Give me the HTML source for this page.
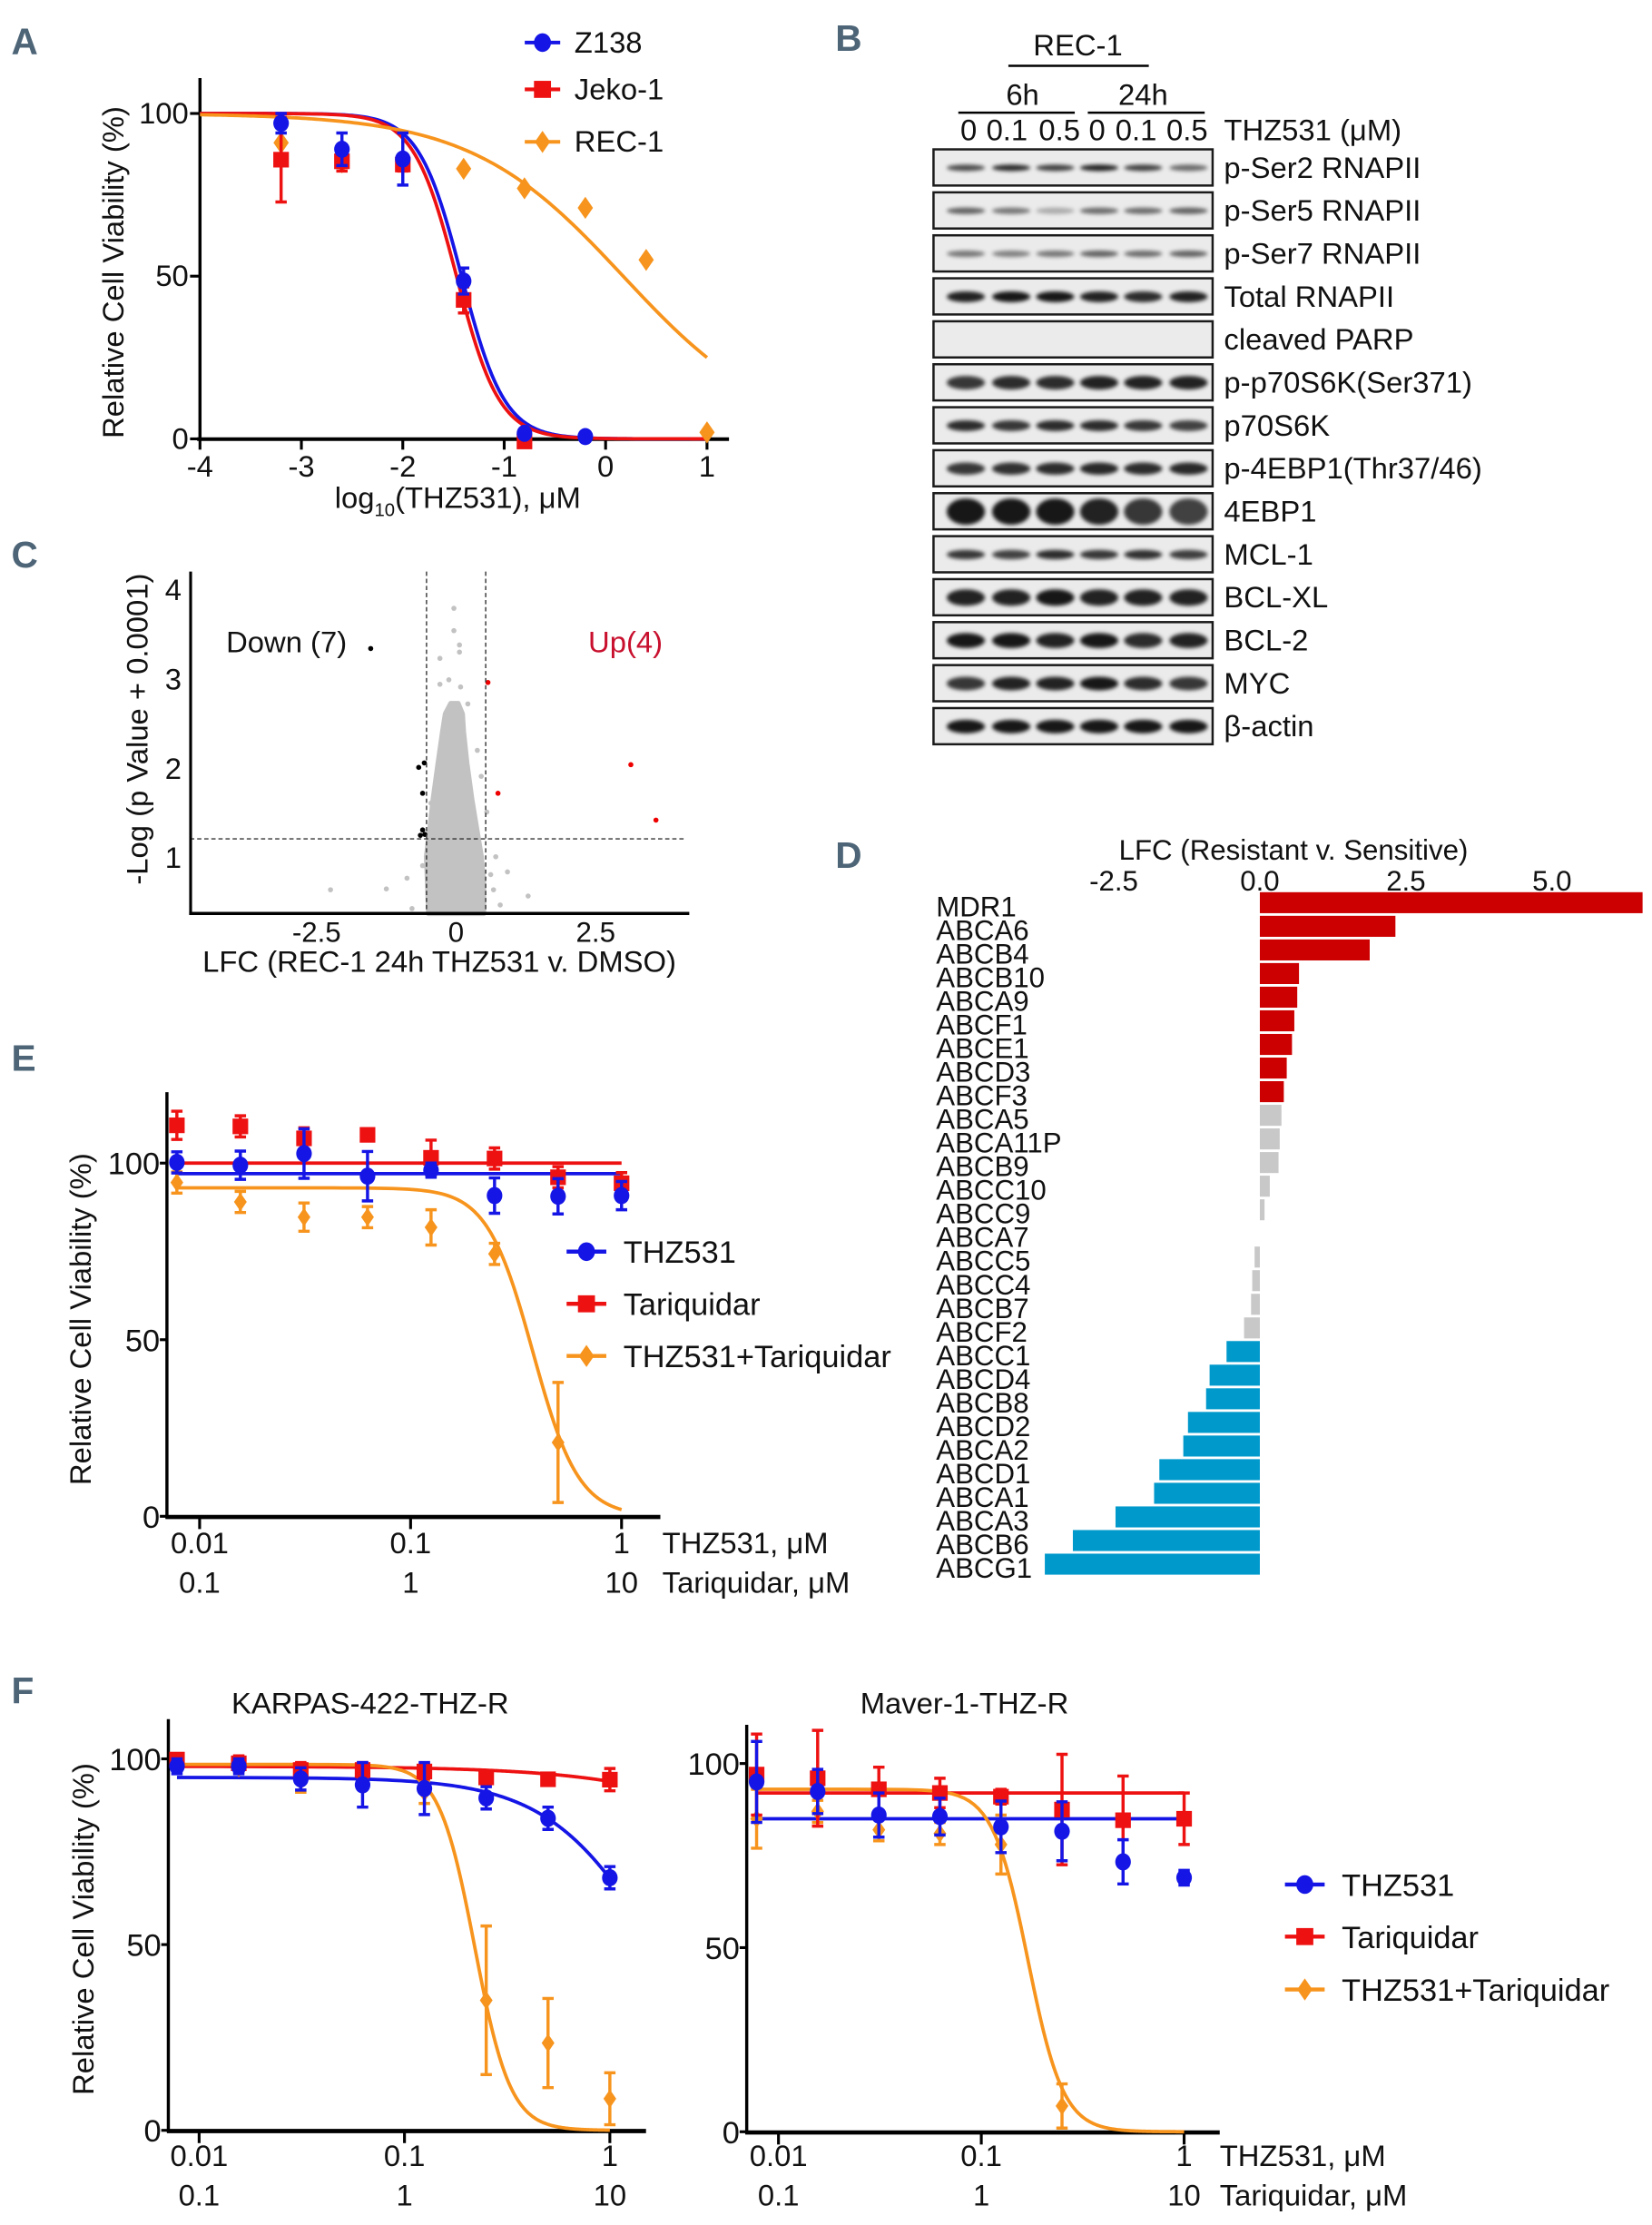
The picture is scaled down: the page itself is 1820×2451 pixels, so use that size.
<!DOCTYPE html>
<html><head><meta charset="utf-8">
<style>
html,body{margin:0;padding:0;background:#fff;}
svg{display:block;}
text{font-family:"Liberation Sans",sans-serif;fill:#111;}
.nar{font-family:"Liberation Sans Narrow","Liberation Sans",sans-serif;}
.plab{font-family:"Liberation Sans Narrow","Liberation Sans",sans-serif;font-weight:bold;fill:#4d6577;font-size:26px;}
</style></head>
<body>
<svg id="fig" xmlns="http://www.w3.org/2000/svg" width="1820" height="2451" viewBox="0 0 1164.8 1568.64">
<defs><filter id="blur" x="-20%" y="-100%" width="140%" height="300%"><feGaussianBlur stdDeviation="1.3"/></filter></defs>
<text class="plab" x="8" y="38">A</text>
<text class="plab" x="589" y="36">B</text>
<text class="plab" x="8" y="400">C</text>
<text class="plab" x="589" y="612">D</text>
<text class="plab" x="8" y="755">E</text>
<text class="plab" x="8" y="1201">F</text>
<g id="gA"></g>
<g id="gB"></g>
<g id="gC"></g>
<g id="gD"></g>
<g id="gE"></g>
<g id="gF"></g>
</svg>
<script>
// ---------- Panel A data ----------
const aX = [-3.2,-2.6,-2.0,-1.4,-0.8,-0.2,0.4,1.0];
const aZ138 = [97,89,86,48.5,1.7,0.7];
const aZ138Err = [3,5,8,4,0,0];
const aJeko = [85.8,85.3,84.3,42.7,-0.8];
const aJekoErr = [13,3,2,4,0];
const aRec = [91,85,84.5,83,77,71,55,2];
const aFitC = [-1.42,-1.47,0.173];
const aFitH = [2.05,2.05,0.577];
const aXTicks = [-4,-3,-2,-1,0,1];
const aYTicks = [0,50,100];
// ---------- Panel B data ----------
const bRows = ['p-Ser2 RNAPII','p-Ser5 RNAPII','p-Ser7 RNAPII','Total RNAPII','cleaved PARP','p-p70S6K(Ser371)','p70S6K','p-4EBP1(Thr37/46)','4EBP1','MCL-1','BCL-XL','BCL-2','MYC','β-actin'];
const bIntensity = [[0.75,0.9,0.8,0.95,0.8,0.6],[0.65,0.55,0.3,0.6,0.6,0.65],[0.55,0.5,0.55,0.65,0.6,0.65],[0.95,1,1,0.95,0.9,0.95],[0,0,0,0,0,0],[0.85,0.9,0.9,0.95,0.95,0.95],[0.9,0.85,0.9,0.9,0.85,0.8],[0.85,0.88,0.9,0.92,0.9,0.92],[1,1,1,0.95,0.85,0.8],[0.85,0.8,0.9,0.85,0.88,0.82],[0.95,0.95,1,0.95,0.95,0.95],[1,1,0.95,1,0.9,0.95],[0.85,0.95,0.95,1,0.9,0.85],[1,1,1,1,1,1]];
const bThick = [3,3,3,6,0,8,6,7,17,5,10,9,8,8];
const bLanes = ['0','0.1','0.5','0','0.1','0.5'];
// ---------- Panel C data ----------
const cGrayX = [-0.04,-0.04,0.06,0.06,-0.29,-0.13,-0.29,0.08,0.21,-2.25,-1.25,1.29,0.92,0.71,0.67,0.79,0.38,-0.88,-0.79,0.55,-0.45,0.45,-0.6,0.62];
const cGrayY = [3.78,3.53,3.37,3.29,3.22,2.98,2.93,2.9,2.71,0.63,0.64,0.56,0.83,1.0,0.63,0.46,2.19,0.76,0.42,1.5,1.6,1.9,0.9,0.8];
const cDownX = [-1.53,-0.67,-0.57,-0.6,-0.6,-0.64,-0.56];
const cDownY = [3.33,2.0,2.05,1.71,1.3,1.24,1.25];
const cUpX = [0.57,0.75,3.13,3.58];
const cUpY = [2.95,1.71,2.03,1.41];
const cCloudY = [0.36,0.7,1.0,1.3,1.64,2.05,2.4,2.6,2.72];
const cCloudL = [-0.5,-0.52,-0.54,-0.48,-0.42,-0.33,-0.25,-0.2,-0.1];
const cCloudR = [0.5,0.5,0.46,0.38,0.29,0.2,0.14,0.12,0.04];
const cXTicks = [-2.5,0,2.5];
const cXTickLabels = ['-2.5','0','2.5'];
const cYTicks = [1,2,3,4];
// ---------- Panel D data ----------
const dGenes = ['MDR1','ABCA6','ABCB4','ABCB10','ABCA9','ABCF1','ABCE1','ABCD3','ABCF3','ABCA5','ABCA11P','ABCB9','ABCC10','ABCC9','ABCA7','ABCC5','ABCC4','ABCB7','ABCF2','ABCC1','ABCD4','ABCB8','ABCD2','ABCA2','ABCD1','ABCA1','ABCA3','ABCB6','ABCG1'];
const dLFC = [6.55,2.32,1.88,0.67,0.64,0.59,0.55,0.46,0.41,0.37,0.34,0.32,0.17,0.08,0,-0.09,-0.13,-0.15,-0.27,-0.57,-0.86,-0.92,-1.23,-1.31,-1.72,-1.81,-2.47,-3.2,-3.68];
const dGroup = ['up','up','up','up','up','up','up','up','up','ns','ns','ns','ns','ns','ns','ns','ns','ns','ns','dn','dn','dn','dn','dn','dn','dn','dn','dn','dn'];
const dTicks = [-2.5,0,2.5,5.0];
const dTickLabels = ['-2.5','0.0','2.5','5.0'];
// ---------- Panel E data ----------
const eConc = [0.0078,0.0156,0.03125,0.0625,0.125,0.25,0.5,1];
const eTHZ = [100.2,99.4,102.7,96.3,98,90.8,90.6,90.8];
const eTHZErr = [3,4,7,7,2,5,5,4];
const eTar = [110.7,110.4,107,108,101.5,101.3,96,94.3];
const eTarErr = [4,3,3,1,5,3,3,3];
const eCombo = [94.5,89,84.7,84.7,81.8,74.3,20.9];
const eComboErr = [3,3,4,3,5,3,17];
const eFitTop = [97,100,93];
const eFitC = [1e6,1e6,0.38];
const eFitH = [1,1,4];
// ---------- Panel F data ----------
const fKTHZ = [98,98,94.6,93,92,89.5,84,68];
const fKTHZErr = [2,2,3,6,7,3,3,3];
const fKTar = [99.8,98.8,97,97,96.6,95,94.5,94.4];
const fKTarErr = [1,2,2,2,2,1,1,3];
const fKCombo = [98.5,97.5,94,95,91,35,23.5,8.5];
const fKComboErr = [1,1,3,2,3,20,12,7];
const fKFitTop = [95,98,98.5];
const fKFitC = [1.77,23,0.22];
const fKFitH = [1.6,1,5];
const fMTHZ = [95,92.4,86,85.6,82.8,81.6,73.3,69];
const fMTHZErr = [11,6,6,5,7,8,6,2];
const fMTar = [97,96,93,92,91,87.5,84.6,85];
const fMTarErr = [11,13,6,4,2,15,12,7];
const fMCombo = [85,87,82,81,78,7];
const fMComboErr = [8,3,3,3,8,6];
const fMFitTop = [85,92,93];
const fMFitC = [1e6,1e6,0.17];
const fMFitH = [1,1,5];
const fXTicks = [0.01,0.1,1];
const fXTickLabels = ['0.01','0.1','1'];
const fX2Labels = ['0.1','1','10'];

const NS='http://www.w3.org/2000/svg';
const BLUE='#1515e6', RED='#ee1111', ORANGE='#f7941d';
function mk(parent,tag,attrs,txt){const e=document.createElementNS(NS,tag);for(const k in attrs)e.setAttribute(k,attrs[k]);if(txt!==undefined)e.textContent=txt;parent.appendChild(e);return e;}
function marker(g,shape,x,y,color,s){
  let e;
  if(shape==='circle'){e=mk(g,'ellipse',{cx:x,cy:y,rx:s,ry:s*1.1,fill:color});}
  else if(shape==='square'){e=mk(g,'rect',{x:x-s,y:y-s,width:2*s,height:2*s,fill:color});}
  else {e=mk(g,'polygon',{points:`${x},${y-s*1.3} ${x+s*0.9},${y} ${x},${y+s*1.3} ${x-s*0.9},${y}`,fill:color});}
  return e;
}
function errbar(g,x,y1,y2,color,w){
  const p=mk(g,'path',{d:`M${x},${y1}V${y2}M${x-w},${y1}H${x+w}M${x-w},${y2}H${x+w}`,stroke:color,'stroke-width':2.2,fill:'none'});
  
  
}
function curve(g,fn,x0,x1,sx,sy,color,n){
  let d='';for(let i=0;i<=n;i++){const x=x0+(x1-x0)*i/n;d+=(i?'L':'M')+sx(x).toFixed(2)+','+sy(fn(x)).toFixed(2);}
  const p=mk(g,'path',{d:d,stroke:color,'stroke-width':2.4,fill:'none'});
  
  
}

// ===== Panel A =====
(function(){
  const g=document.getElementById('gA');
  const sx=v=>141+(v+4)*71.5, sy=v=>309.4-v*2.294;
  mk(g,'line',{x1:141,y1:55,x2:141,y2:310,stroke:'#000','stroke-width':2.2});
  mk(g,'line',{x1:139,y1:309.6,x2:514,y2:309.6,stroke:'#000','stroke-width':2.6});
  aXTicks.forEach(t=>{mk(g,'line',{x1:sx(t),y1:309,x2:sx(t),y2:317,stroke:'#000','stroke-width':2});
    const tx=mk(g,'text',{x:sx(t),y:336,'text-anchor':'middle','font-size':21,class:'nar'},String(t));
    
    });
  aYTicks.forEach(t=>{mk(g,'line',{x1:134,y1:sy(t),x2:141,y2:sy(t),stroke:'#000','stroke-width':2});
    const tx=mk(g,'text',{x:133,y:sy(t)+7,'text-anchor':'end','font-size':21,class:'nar'},String(t));
    
    });
  const yt=mk(g,'text',{x:0,y:0,transform:'translate(87,192) rotate(-90)','text-anchor':'middle','font-size':21},'Relative Cell Viability (%)');
  
  
  const xt=mk(g,'text',{x:236,y:358,'font-size':21,class:'nar'});
  
  
  mk(xt,'tspan',{},'log');mk(xt,'tspan',{'font-size':13,dy:6},'10');mk(xt,'tspan',{dy:-6},'(THZ531), μM');
  const cols=[BLUE,RED,ORANGE];
  [0,1,2].forEach(i=>curve(g,x=>100/(1+Math.pow(10,aFitH[i]*(x-aFitC[i]))),-4,1,sx,sy,cols[i],200));
  aRec.forEach((v,i)=>{const m=marker(g,'diamond',sx(aX[i]),sy(v),ORANGE,6);});
  aJeko.forEach((v,i)=>{if(aJekoErr[i])errbar(g,sx(aX[i]),sy(v-aJekoErr[i]),sy(v+aJekoErr[i]),RED,4);const m=marker(g,'square',sx(aX[i]),sy(v),RED,5.5);});
  aZ138.forEach((v,i)=>{if(aZ138Err[i])errbar(g,sx(aX[i]),sy(v-aZ138Err[i]),sy(v+aZ138Err[i]),BLUE,4);const m=marker(g,'circle',sx(aX[i]),sy(v),BLUE,5.5);});
  const names=['Z138','Jeko-1','REC-1'],ys=[30,63,100],sh=['circle','square','diamond'];
  names.forEach((n,i)=>{const lg=mk(g,'g',{});
    mk(lg,'line',{x1:370,y1:ys[i],x2:395,y2:ys[i],stroke:cols[i],'stroke-width':2.6});marker(lg,sh[i],382.5,ys[i],cols[i],6);
    mk(lg,'text',{x:405,y:ys[i]+7,'font-size':21,class:'nar'},n);});
})();

// ===== Panel B =====
(function(){
  const g=document.getElementById('gB');
  const t1=mk(g,'text',{x:760,y:39,'text-anchor':'middle','font-size':21,class:'nar'},'REC-1');
  mk(g,'line',{x1:711,y1:46.4,x2:810,y2:46.4,stroke:'#000','stroke-width':1.6});
  mk(g,'text',{x:721,y:74,'text-anchor':'middle','font-size':21,class:'nar'},'6h');
  mk(g,'text',{x:806,y:74,'text-anchor':'middle','font-size':21,class:'nar'},'24h');
  mk(g,'line',{x1:675.7,y1:79.4,x2:757.8,y2:79.4,stroke:'#000','stroke-width':1.6});
  mk(g,'line',{x1:767,y1:79.4,x2:849.4,y2:79.4,stroke:'#000','stroke-width':1.6});
  const laneX=[683,710,747,773.5,801,837];
  bLanes.forEach((l,i)=>{const t=mk(g,'text',{x:laneX[i],y:99,'text-anchor':'middle','font-size':21},l);});
  mk(g,'text',{x:863,y:99,'font-size':21},'THZ531 (μM)');
  const bandX=[681,713,744,775,806,838];
  bRows.forEach((r,i)=>{
    const top=105.3+i*30.3;
    const rg=mk(g,'g',{});
    mk(rg,'rect',{x:658.2,y:top,width:196.8,height:25.5,fill:'#ebebeb',stroke:'#1a1a1a','stroke-width':1.6});
    bIntensity[i].forEach((v,j)=>{if(v>0&&bThick[i]>0){
      mk(rg,'ellipse',{cx:bandX[j],cy:top+13,rx:13.5,ry:bThick[i]/2+0.8,fill:'#000','fill-opacity':v*0.9,filter:'url(#blur)'});}});
    mk(rg,'text',{x:863,y:top+20,'font-size':21},r);
  });
})();

// ===== Panel C =====
(function(){
  const g=document.getElementById('gC');
  const sx=v=>321.6+v*39.36, sy=v=>667-v*63;
  const pts=[];for(let i=0;i<cCloudY.length;i++)pts.push(sx(cCloudL[i])+','+sy(cCloudY[i]));
  for(let i=cCloudY.length-1;i>=0;i--)pts.push(sx(cCloudR[i])+','+sy(cCloudY[i]));
  const cl=mk(g,'polygon',{points:pts.join(' '),fill:'#c2c2c2',stroke:'#c2c2c2','stroke-width':3,'stroke-linejoin':'round'});
  
  cGrayX.forEach((x,i)=>{const c=mk(g,'circle',{cx:sx(x),cy:sy(cGrayY[i]),r:1.8,fill:'#c2c2c2'});});
  cDownX.forEach((x,i)=>{const c=mk(g,'circle',{cx:sx(x),cy:sy(cDownY[i]),r:1.8,fill:'#000'});});
  cUpX.forEach((x,i)=>{const c=mk(g,'circle',{cx:sx(x),cy:sy(cUpY[i]),r:1.8,fill:'#e00'});});
  [-0.53,0.53].forEach(v=>mk(g,'line',{x1:sx(v),y1:403,x2:sx(v),y2:644,stroke:'#333','stroke-width':0.9,'stroke-dasharray':'3,2'}));
  mk(g,'line',{x1:134,y1:sy(1.2),x2:482,y2:sy(1.2),stroke:'#333','stroke-width':0.9,'stroke-dasharray':'3,2'});
  mk(g,'line',{x1:134.4,y1:403,x2:134.4,y2:645,stroke:'#000','stroke-width':2});
  mk(g,'line',{x1:133.4,y1:644,x2:486,y2:644,stroke:'#000','stroke-width':2.2});
  cXTicks.forEach((t,i)=>{const tx=mk(g,'text',{x:sx(t),y:664,'text-anchor':'middle','font-size':20,class:'nar'},cXTickLabels[i]);});
  cYTicks.forEach(t=>{const tx=mk(g,'text',{x:128,y:sy(t)+8,'text-anchor':'end','font-size':21,class:'nar'},String(t));});
  const yt=mk(g,'text',{x:0,y:0,transform:'translate(104,514) rotate(-90)','text-anchor':'middle','font-size':21},'-Log (p Value + 0.0001)');
  const xt=mk(g,'text',{x:309.8,y:685,'text-anchor':'middle','font-size':21,class:'nar'},'LFC (REC-1 24h THZ531 v. DMSO)');
  mk(g,'text',{x:202,y:460,'text-anchor':'middle','font-size':21,class:'nar'},'Down (7)');
  const up=mk(g,'text',{x:441,y:460,'text-anchor':'middle','font-size':21,class:'nar'},'Up(4)');up.style.fill='#c8102e';
})();

// ===== Panel D =====
(function(){
  const g=document.getElementById('gD');
  const sx=v=>888.3+v*41.2;
  const col={up:'#cc0000',ns:'#c8c8c8',dn:'#0099cc'};
  mk(g,'text',{x:912,y:606,'text-anchor':'middle','font-size':20},'LFC (Resistant v. Sensitive)');
  dTicks.forEach((t,i)=>{const tx=mk(g,'text',{x:sx(t),y:628,'text-anchor':'middle','font-size':20},dTickLabels[i]);});
  dGenes.forEach((n,i)=>{
    const top=628+i*16.1*30/29;
    const v=dLFC[i];
    if(v!==0){const r=mk(g,'rect',{x:Math.min(sx(0),sx(v)),y:top+1,width:Math.abs(sx(v)-sx(0)),height:14.8,fill:col[dGroup[i]]});
      }
    const t=mk(g,'text',{x:660,y:top+18,'font-size':20},n);
  });
})();

// ===== dose-response helper (E,F) =====
function doseChart(g,o){
  const sx=c=>o.x1+(Math.log10(c)+1)*o.dec, sy=v=>o.y0-v*o.py;
  mk(g,'line',{x1:o.ax,y1:o.ytop,x2:o.ax,y2:o.y0+1.5,stroke:'#000','stroke-width':2.2});
  mk(g,'line',{x1:o.ax-1,y1:o.y0+0.5,x2:o.xend,y2:o.y0+0.5,stroke:'#000','stroke-width':3});
  fXTicks.forEach((t,i)=>{mk(g,'line',{x1:sx(t),y1:o.y0,x2:sx(t),y2:o.y0+9,stroke:'#000','stroke-width':2});
    const a=mk(g,'text',{x:sx(t),y:o.lab1,'text-anchor':'middle','font-size':21,class:'nar'},fXTickLabels[i]);
    const b=mk(g,'text',{x:sx(t),y:o.lab2,'text-anchor':'middle','font-size':21,class:'nar'},fX2Labels[i]);});
  [0,50,100].forEach(t=>{mk(g,'line',{x1:o.ax-5,y1:sy(t),x2:o.ax,y2:sy(t),stroke:'#000','stroke-width':2});
    const a=mk(g,'text',{x:o.ax-5,y:sy(t)+8,'text-anchor':'end','font-size':22,class:'nar'},String(t));});
  if(o.unitsX){mk(g,'text',{x:o.unitsX,y:o.lab1,'font-size':21,class:'nar'},'THZ531, μM');mk(g,'text',{x:o.unitsX,y:o.lab2,'font-size':21,class:'nar'},'Tariquidar, μM');}
  if(o.ytitleX){const yt=mk(g,'text',{x:0,y:0,transform:`translate(${o.ytitleX},${o.ytitleY}) rotate(-90)`,'text-anchor':'middle','font-size':21},'Relative Cell Viability (%)');}
  const cols=[BLUE,RED,ORANGE];
  [0,1,2].forEach(i=>curve(g,c=>o.top[i]/(1+Math.pow(c/o.fc[i],o.fh[i])),0.0078,1,sx,sy,cols[i],200));
  const series=[[o.c,o.cE,ORANGE,'diamond','combo-point'],[o.t,o.tE,RED,'square','tariquidar-point'],[o.h,o.hE,BLUE,'circle','thz531-point']];
  series.forEach(s=>{s[0].forEach((v,i)=>{const x=sx(eConc[i]);errbar(g,x,sy(v-s[1][i]),sy(v+s[1][i]),s[2],4);
    const m=marker(g,s[3],x,sy(v),s[2],s[3]==='diamond'?5:5.5);});});
}
function legend(g,x,ys){
  const names=['THZ531','Tariquidar','THZ531+Tariquidar'],cols=[BLUE,RED,ORANGE],sh=['circle','square','diamond'];
  names.forEach((n,i)=>{const lg=mk(g,'g',{});
    mk(lg,'line',{x1:x-14,y1:ys[i],x2:x+14,y2:ys[i],stroke:cols[i],'stroke-width':2.8});marker(lg,sh[i],x,ys[i],cols[i],6);
    mk(lg,'text',{x:x+26,y:ys[i]+8,'font-size':22,class:'nar'},n);});
}
// ===== Panel E =====
(function(){
  const g=document.getElementById('gE');
  doseChart(g,{x1:289.5,dec:148.75,y0:1069,py:2.49,ax:117.7,ytop:770,xend:465.6,lab1:1095,lab2:1123,unitsX:467,ytitleX:64,ytitleY:930,
    h:eTHZ,hE:eTHZErr,t:eTar,tE:eTarErr,c:eCombo,cE:eComboErr,top:eFitTop,fc:eFitC,fh:eFitH});
  legend(g,413.5,[882.4,919.2,956]);
})();
// ===== Panel F =====
(function(){
  const g=document.getElementById('gF');
  const t1=mk(g,'text',{x:261,y:1208,'text-anchor':'middle','font-size':21,class:'nar'},'KARPAS-422-THZ-R');
  const t2=mk(g,'text',{x:680,y:1208,'text-anchor':'middle','font-size':21,class:'nar'},'Maver-1-THZ-R');
  const gl=mk(g,'g',{});
  doseChart(gl,{x1:285.2,dec:144.8,y0:1501.9,py:2.619,ax:118.7,ytop:1212,xend:455.5,lab1:1527,lab2:1555,ytitleX:66,ytitleY:1360,
    h:fKTHZ,hE:fKTHZErr,t:fKTar,tE:fKTarErr,c:fKCombo,cE:fKComboErr,top:fKFitTop,fc:fKFitC,fh:fKFitH});
  const gr=mk(g,'g',{});
  doseChart(gr,{x1:691.9,dec:143,y0:1502.9,py:2.596,ax:526.5,ytop:1216,xend:860,lab1:1527,lab2:1555,unitsX:860,
    h:fMTHZ,hE:fMTHZErr,t:fMTar,tE:fMTarErr,c:fMCombo,cE:fMComboErr,top:fMFitTop,fc:fMFitC,fh:fMFitH});
  legend(g,920,[1328.6,1365.3,1402.6]);
})();
</script>
</body></html>
